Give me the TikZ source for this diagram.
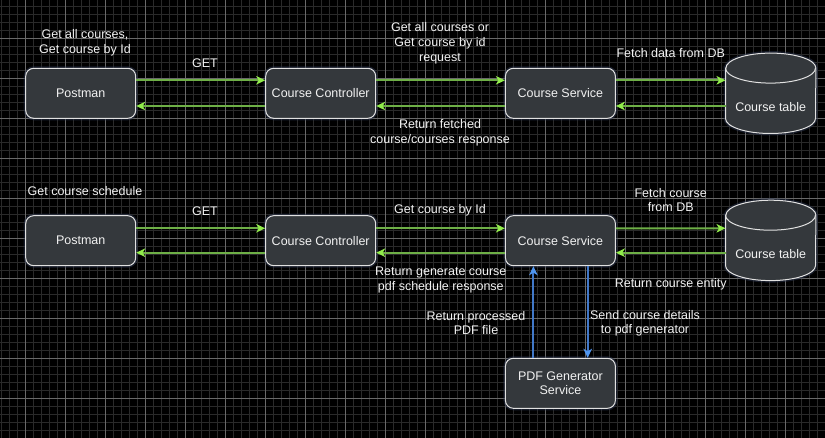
\documentclass[tikz,border=0pt]{standalone}
\usepackage{fontspec}
\setmainfont{Liberation Sans}
\usetikzlibrary{arrows.meta,calc}
\definecolor{bgc}{RGB}{0,0,0}
\definecolor{gridminor}{RGB}{42,42,42}
\definecolor{gridmajor}{RGB}{105,105,105}
\definecolor{boxfill}{RGB}{52,56,60}
\definecolor{boxline}{RGB}{225,225,225}
\definecolor{glowc}{RGB}{45,55,80}
\definecolor{txt}{RGB}{242,242,242}
\definecolor{gline}{RGB}{110,175,70}
\definecolor{ghead}{RGB}{145,235,75}
\definecolor{bline}{RGB}{65,120,200}
\definecolor{bhead}{RGB}{80,150,240}
\newcommand\mycyl[1]{%
  \path[preaction={draw=glowc,line width=4pt,opacity=0.5},draw=boxline,fill=boxfill,line width=1pt]
    ($(#1.north west)+(0,15)$) -- ($(#1.south west)+(0,-15)$)
    arc[start angle=180,end angle=360,x radius=45pt,y radius=15pt]
    -- ($(#1.north east)+(0,15)$)
    arc[start angle=0,end angle=180,x radius=45pt,y radius=15pt] -- cycle;
  \draw[draw=boxline,line width=1pt] ($(#1.north west)+(0,15)$)
    arc[start angle=180,end angle=360,x radius=45pt,y radius=15pt];}
\begin{document}
\begin{tikzpicture}[x=1pt,y=-1pt,
  txtfont/.style={font=\fontsize{12.5}{14.6}\selectfont},
  box/.style={rectangle,rounded corners=8pt,draw=boxline,fill=boxfill,line width=1pt,
    minimum width=110pt,minimum height=50pt,text=txt,align=center,txtfont,
    preaction={draw=glowc,line width=4pt,opacity=0.5}},
  dbnode/.style={rectangle,minimum width=90pt,minimum height=80pt,inner sep=0pt},
  lbl/.style={text=txt,align=center,txtfont,inner sep=0pt},
  garrow/.style={draw=gline,line width=2pt,-{Stealth[length=9pt,width=8.5pt,inset=2.5pt,color=ghead]}},
  barrow/.style={draw=bline,line width=2pt,-{Stealth[length=9pt,width=8.5pt,inset=2.5pt,color=bhead]}}]
\fill[bgc] (0,0) rectangle (825,438);
\useasboundingbox (0,0) rectangle (825,438);
% grid
\foreach \i in {0,...,103} \draw[gridminor,line width=0.6pt] ({1.7+8*\i},0) -- ({1.7+8*\i},438);
\foreach \i in {0,...,54} \draw[gridminor,line width=0.6pt] (0,{6.3+8*\i}) -- (825,{6.3+8*\i});
\foreach \i in {0,...,19} \draw[gridmajor,line width=0.8pt] ({25.7+40*\i},0) -- ({25.7+40*\i},438);
\foreach \i in {0,...,9} \draw[gridmajor,line width=0.8pt] (0,{38.3+40*\i}) -- (825,{38.3+40*\i});
% row 1
\node[box] (pm1) at (80.7,93.3) {Postman};
\node[box] (cc1) at (320.7,93.3) {Course Controller};
\node[box] (cs1) at (560.4,93.3) {Course Service};
\node[dbnode] (db1) at (770.7,93.3) {};
\mycyl{db1}
\node[lbl] (dbt1) at ($(db1)+(0,13.4)$) {Course table};
% row 2
\node[box] (pm2) at (80.7,240.7) {Postman};
\node[box] (cc2) at (320.7,240.7) {Course Controller};
\node[box] (cs2) at (560.4,240.7) {Course Service};
\node[dbnode] (db2) at (770.7,240.4) {};
\mycyl{db2}
\node[lbl] (dbt2) at ($(db2)+(0,13.4)$) {Course table};
\node[box] (pdf) at (560.4,383.3) {PDF Generator\\Service};
% arrows row 1
\draw[garrow] ([yshift=13pt]pm1.east) -- ([yshift=13pt]cc1.west);
\draw[garrow] ([yshift=-12.7pt]cc1.west) -- ([yshift=-12.7pt]pm1.east);
\draw[garrow] ([yshift=13pt]cc1.east) -- ([yshift=13pt]cs1.west);
\draw[garrow] ([yshift=-12.7pt]cs1.west) -- ([yshift=-12.7pt]cc1.east);
\draw[garrow] ([yshift=13pt]cs1.east) -- ([yshift=13pt]db1.west);
\draw[garrow] ([yshift=-12.7pt]db1.west) -- ([yshift=-12.7pt]cs1.east);
% arrows row 2
\draw[garrow] ([yshift=12.4pt]pm2.east) -- ([yshift=12.4pt]cc2.west);
\draw[garrow] ([yshift=-12pt]cc2.west) -- ([yshift=-12pt]pm2.east);
\draw[garrow] ([yshift=12.4pt]cc2.east) -- ([yshift=12.4pt]cs2.west);
\draw[garrow] ([yshift=-12pt]cs2.west) -- ([yshift=-12pt]cc2.east);
\draw[garrow] ([yshift=12.4pt]cs2.east) -- ($(db2.west)+(0,-12.1)$);
\draw[garrow] ($(db2.west)+(0,12.3)$) -- ([yshift=-12pt]cs2.east);
\draw[barrow] ([xshift=-27pt]pdf.north) -- ([xshift=-27pt]cs2.south);
\draw[barrow] ([xshift=27.3pt]cs2.south) -- ([xshift=27.3pt]pdf.north);
% labels row 1
\node[lbl] (l1) at (85,42.8) {Get all courses,\\Get course by Id};
\node[lbl] (l2) at (205,63.3) {GET};
\node[lbl] (l3) at (440,43.3) {Get all courses or\\Get course by id\\request};
\node[lbl] (l4) at (670.7,53.3) {Fetch data from DB};
\node[lbl] (l5) at (440,133) {Return fetched\\course/courses response};
% labels row 2
\node[lbl] (l6) at (85,190.7) {Get course schedule};
\node[lbl] (l7) at (205,210.7) {GET};
\node[lbl] (l8) at (440,210.7) {Get course by Id};
\node[lbl] (l9) at (670.7,200.2) {Fetch course\\from DB};
\node[lbl] (l10) at (440.8,280) {Return generate course\\pdf schedule response};
\node[lbl] (l11) at (670.7,284) {Return course entity};
\node[lbl] (l12) at (476,323.2) {Return processed\\PDF file};
\node[lbl] (l13) at (645,323.2) {Send course details\\to pdf generator};
\end{tikzpicture}
\end{document}
